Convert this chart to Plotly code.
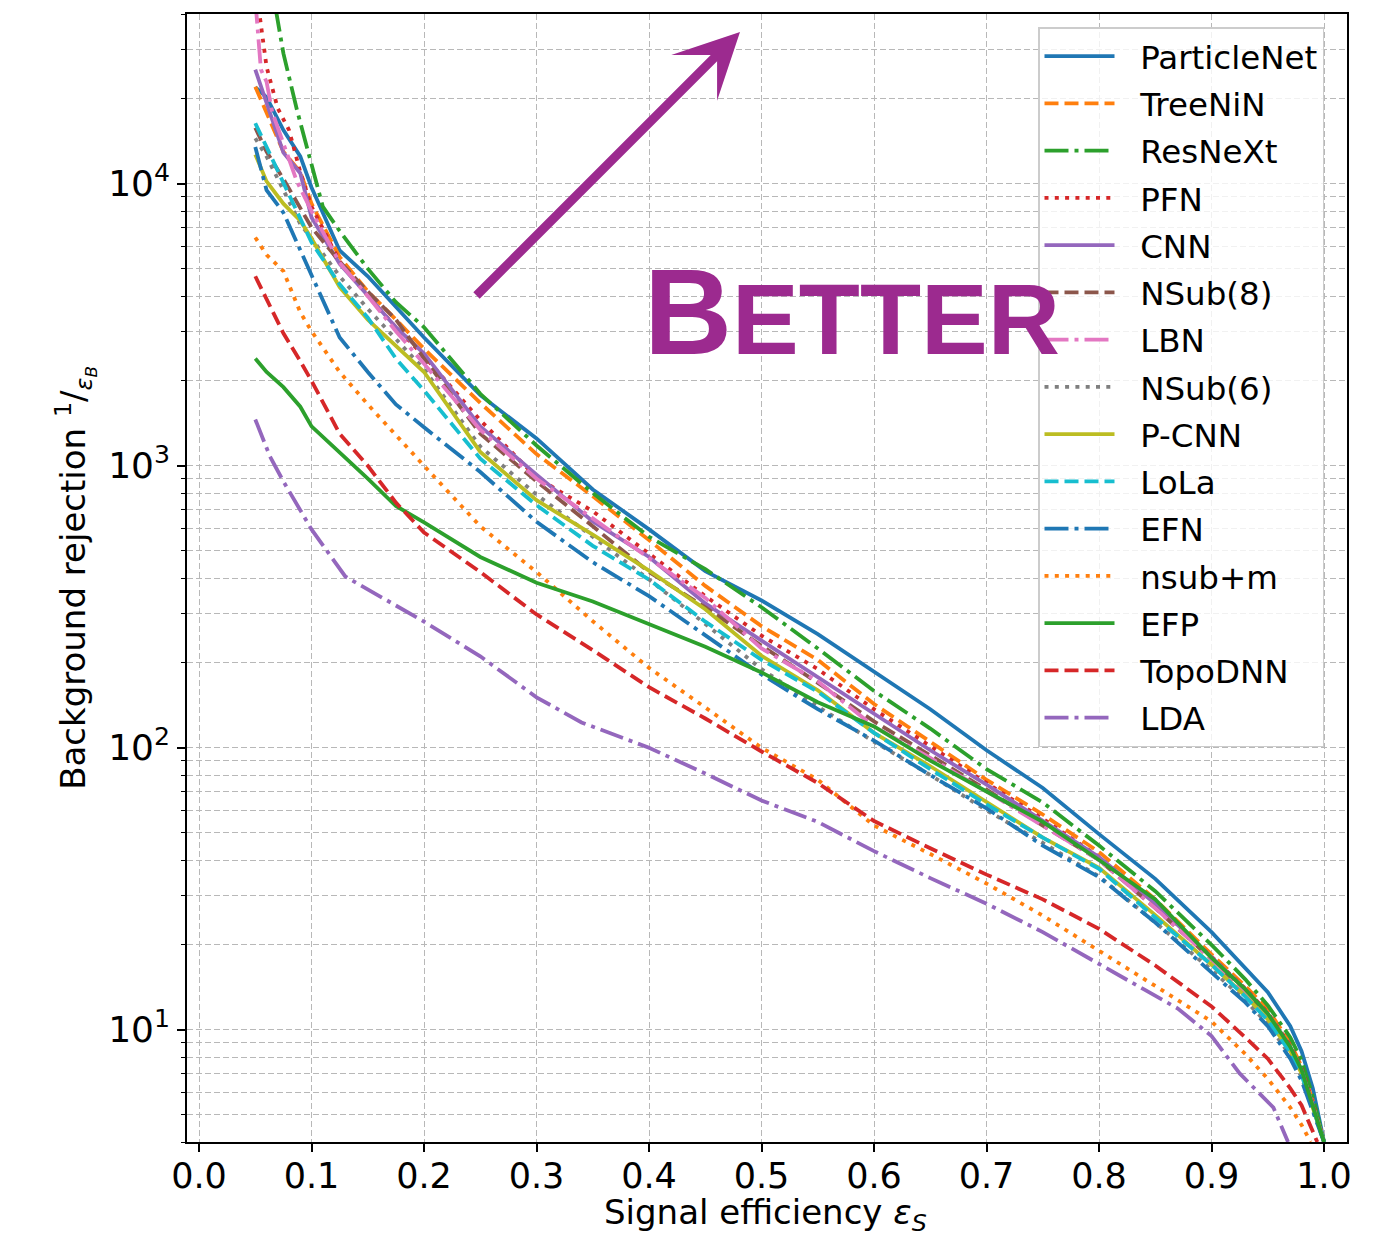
import plotly.graph_objects as go

# ---------------- data ----------------
G = [0.05, 0.06, 0.075, 0.09, 0.1, 0.125, 0.15, 0.175, 0.2, 0.25, 0.3, 0.35, 0.4, 0.45,
     0.5, 0.55, 0.6, 0.65, 0.7, 0.75, 0.8, 0.85, 0.9, 0.93, 0.95, 0.97, 0.98, 0.99, 1.0]

particlenet_x = G
particlenet_y = [22000, 20300, 15500, 12500, 9700, 5800, 4700, 3650, 2850, 1780, 1250, 824, 595, 423,
                 333, 253, 187, 137, 98, 72, 49.4, 34.3, 22.2, 16.6, 13.6, 10.3, 8.4, 6.2, 4.0]

treenin_x = G
treenin_y = [22100, 17800, 13000, 11000, 8500, 5500, 4150, 3300, 2600, 1670, 1100, 780, 545, 375,
             270, 205, 143, 105, 77, 58, 42.7, 29, 18.5, 14.3, 11.8, 9.0, 7.4, 5.6, 4.0]

resnext_x = [0.068, 0.075, 0.087, 0.1, 0.11, 0.125, 0.15, 0.175, 0.2, 0.25, 0.3, 0.35, 0.4, 0.45,
             0.5, 0.55, 0.6, 0.65, 0.7, 0.75, 0.8, 0.85, 0.9, 0.93, 0.95, 0.97, 0.98, 0.99, 1.0]
resnext_y = [42000, 29000, 18300, 11500, 8300, 6800, 5000, 3800, 3100, 1800, 1180, 800, 560, 430,
             315, 225, 159, 117, 84, 64, 45, 31, 20, 15.1, 12.2, 9.4, 7.8, 5.8, 4.0]

pfn_x = [0.053, 0.06, 0.07, 0.08, 0.09, 0.1, 0.125, 0.15, 0.175, 0.2, 0.25, 0.3, 0.35, 0.4, 0.45,
         0.5, 0.55, 0.6, 0.65, 0.7, 0.75, 0.8, 0.85, 0.9, 0.93, 0.95, 0.97, 0.98, 0.99, 1.0]
pfn_y = [42000, 26000, 18500, 15500, 11000, 8300, 5300, 4000, 3100, 2450, 1450, 910, 690, 490, 345,
         250, 190, 137, 101, 75, 56, 41, 28, 18.2, 14.0, 11.5, 8.8, 7.3, 5.5, 4.0]

cnn_x = G
cnn_y = [25400, 19500, 12900, 10900, 7600, 5200, 4000, 3100, 2500, 1380, 930, 635, 475, 325,
         240, 178, 132, 98, 74, 55, 41, 28, 18, 13.9, 11.4, 8.7, 7.2, 5.4, 4.0]

nsub8_x = G
nsub8_y = [15800, 13000, 10400, 8200, 7000, 5300, 4150, 3300, 2400, 1300, 880, 610, 420, 315,
           230, 170, 124, 94, 71, 53, 40, 27, 17.8, 13.7, 11.2, 8.6, 7.1, 5.4, 4.0]

lbn_x = [0.05, 0.055, 0.06, 0.065, 0.077, 0.087, 0.1, 0.125, 0.15, 0.175, 0.2, 0.25, 0.3, 0.35,
         0.4, 0.45, 0.5, 0.55, 0.6, 0.65, 0.7, 0.75, 0.8, 0.85, 0.9, 0.93, 0.95, 0.97, 0.98, 0.99, 1.0]
lbn_y = [45000, 25400, 23000, 18000, 13200, 10200, 8000, 5250, 4000, 3000, 2300, 1340, 900, 650,
         470, 340, 225, 172, 119, 92, 70, 53, 40, 27, 17.8, 13.7, 11.2, 8.6, 7.1, 5.4, 4.0]

nsub6_x = G
nsub6_y = [14500, 12500, 9500, 7200, 6400, 4700, 3600, 2800, 2200, 1170, 790, 560, 395, 275,
           190, 140, 105, 80, 60, 46, 35, 24, 16.3, 12.7, 10.5, 8.1, 6.8, 5.2, 4.0]

pcnn_x = G
pcnn_y = [12700, 10200, 8500, 7400, 6400, 4300, 3300, 2650, 2150, 1120, 755, 570, 425, 310,
          212, 160, 113, 86, 64, 48, 37.5, 25.5, 17, 13.2, 10.9, 8.4, 7.0, 5.3, 4.0]

lola_x = G
lola_y = [16400, 13500, 10000, 7600, 6200, 4400, 3350, 2400, 1850, 1060, 725, 520, 395, 280,
          205, 158, 113, 84, 63, 48, 37.2, 25, 17, 13.1, 10.8, 8.3, 6.9, 5.3, 4.0]

efn_x = G
efn_y = [13500, 9500, 7900, 5800, 4700, 2850, 2150, 1650, 1370, 950, 633, 455, 345, 250,
         182, 137, 106, 80, 61, 45, 34.8, 24, 16, 12.5, 10.3, 7.9, 6.6, 5.1, 4.0]

nsubm_x = [0.05, 0.06, 0.075, 0.09, 0.1, 0.125, 0.15, 0.175, 0.2, 0.25, 0.3, 0.35, 0.4, 0.45,
           0.5, 0.55, 0.6, 0.65, 0.7, 0.75, 0.8, 0.85, 0.9, 0.93, 0.95, 0.97, 0.98, 0.988]
nsubm_y = [6450, 5600, 4900, 3500, 3000, 2150, 1650, 1280, 1000, 610, 420, 281, 192, 139,
           100, 77, 53, 42, 33, 25.4, 19.1, 14.3, 10.7, 8.2, 6.7, 5.3, 4.6, 4.0]

efp_x = G
efp_y = [2400, 2150, 1900, 1620, 1380, 1120, 900, 720, 630, 475, 385, 330, 274, 228,
         185, 145, 119, 90, 70, 54.6, 40, 29, 18, 13.9, 11.4, 8.7, 7.2, 5.4, 4.0]

topodnn_x = [0.05, 0.06, 0.075, 0.09, 0.1, 0.125, 0.15, 0.175, 0.2, 0.25, 0.3, 0.35, 0.4, 0.45,
             0.5, 0.55, 0.6, 0.65, 0.7, 0.75, 0.8, 0.85, 0.9, 0.93, 0.95, 0.97, 0.98, 0.994]
topodnn_y = [4700, 3900, 2950, 2350, 2000, 1300, 1000, 740, 580, 420, 297, 222, 164, 127,
             97, 75, 55, 44, 35.5, 29, 22.8, 16.9, 12.1, 9.4, 7.9, 6.2, 5.4, 4.0]

lda_x = [0.05, 0.063, 0.075, 0.1, 0.13, 0.16, 0.2, 0.25, 0.3, 0.34, 0.4, 0.45, 0.5, 0.55, 0.6,
         0.65, 0.7, 0.75, 0.79, 0.84, 0.87, 0.9, 0.925, 0.955, 0.968]
lda_y = [1460, 1080, 880, 595, 405, 345, 280, 211, 151, 123, 100, 81, 65, 54.6, 43,
         34.5, 28, 22.2, 18.1, 13.9, 11.9, 9.5, 7.0, 5.3, 4.0]

series_names = ["ParticleNet", "TreeNiN", "ResNeXt", "PFN", "CNN", "NSub(8)", "LBN", "NSub(6)",
                "P-CNN", "LoLa", "EFN", "nsub+m", "EFP", "TopoDNN", "LDA"]
series_x = [particlenet_x, treenin_x, resnext_x, pfn_x, cnn_x, nsub8_x, lbn_x, nsub6_x,
            pcnn_x, lola_x, efn_x, nsubm_x, efp_x, topodnn_x, lda_x]
series_y = [particlenet_y, treenin_y, resnext_y, pfn_y, cnn_y, nsub8_y, lbn_y, nsub6_y,
            pcnn_y, lola_y, efn_y, nsubm_y, efp_y, topodnn_y, lda_y]

x_ticks = [0.0, 0.1, 0.2, 0.3, 0.4, 0.5, 0.6, 0.7, 0.8, 0.9, 1.0]
x_tick_labels = ["0.0", "0.1", "0.2", "0.3", "0.4", "0.5", "0.6", "0.7", "0.8", "0.9", "1.0"]
y_ticks = [10, 100, 1000, 10000]
y_tick_labels = ["10<sup>1</sup>", "10<sup>2</sup>", "10<sup>3</sup>", "10<sup>4</sup>"]
y_minor = [m * 10 ** e for e in range(0, 5) for m in range(2, 10)]
x_title = "Signal efficiency <i>ε</i><sub><i>S</i></sub>"
y_title = "Background rejection <sup>1</sup>/<sub><i>ε<sub>B</sub></i></sub>"

# ---------------- styles ----------------
tab = ["#1f77b4", "#ff7f0e", "#2ca02c", "#d62728", "#9467bd",
       "#8c564b", "#e377c2", "#7f7f7f", "#bcbd22", "#17becf"]
SOLID = "solid"
DASH = "14px,6px"
DOT = "4px,6.3px"
DASHDOT = "24px,6px,4px,6px"
styles = [(tab[0], SOLID), (tab[1], DASH), (tab[2], DASHDOT), (tab[3], DOT), (tab[4], SOLID),
          (tab[5], DASH), (tab[6], DASHDOT), (tab[7], DOT), (tab[8], SOLID), (tab[9], DASH),
          (tab[0], DASHDOT), (tab[1], DOT), (tab[2], SOLID), (tab[3], DASH), (tab[4], DASHDOT)]

FONT = "DejaVu Sans"
NBSP = "\u00a0"
fig = go.Figure()
for name, xs, ys, (col, dash) in zip(series_names, series_x, series_y, styles):
    fig.add_trace(go.Scatter(x=xs, y=ys, mode="lines", name=NBSP * 2 + name, legendgroup=name,
                             line=dict(color=col, width=3.8, dash=dash)))

W, H = 1378, 1237
L, R, T, B = 187, 31, 14, 95
grid_col = "#b8b8b8"
fig.update_layout(
    width=W, height=H,
    margin=dict(l=L, r=R, t=T, b=B, autoexpand=False),
    paper_bgcolor="white", plot_bgcolor="white",
    font=dict(family=FONT, size=33, color="black"),
    showlegend=True,
    legend=dict(x=(1038 - L) / (W - L - R), y=(H - B - 27) / (H - T - B),
                xanchor="left", yanchor="top", traceorder="grouped",
                bgcolor="rgba(255,255,255,0.8)", bordercolor="#cccccc", borderwidth=1.5,
                font=dict(family=FONT, size=32.5), itemwidth=70, tracegroupgap=2),
)
fig.update_xaxes(
    range=[-0.0107, 1.0204], tickvals=x_ticks, ticktext=x_tick_labels, automargin=False,
    showline=True, linecolor="black", linewidth=1.6, mirror=True,
    ticks="outside", ticklen=8, tickwidth=1.6, tickcolor="black", ticklabelstandoff=-6,
    showgrid=True, gridcolor=grid_col, gridwidth=1.3, griddash="6px,3px",
    zeroline=False, tickfont=dict(size=35),
)
fig.update_yaxes(
    type="log", range=[0.60206, 4.60206], tickvals=y_ticks, ticktext=y_tick_labels, automargin=False,
    showline=True, linecolor="black", linewidth=1.6, mirror=True,
    ticks="outside", ticklen=8, tickwidth=1.6, tickcolor="black",
    showgrid=True, gridcolor=grid_col, gridwidth=1.3, griddash="6px,3px",
    zeroline=False, tickfont=dict(size=36),
    minor=dict(tickvals=y_minor, ticks="outside", ticklen=4, tickwidth=1.2, tickcolor="black",
               showgrid=True, gridcolor=grid_col, gridwidth=1.3, griddash="6px,3px"),
    title=dict(text=y_title, font=dict(size=34), standoff=12),
)

PURPLE = "#9c2a8f"
pw, ph = W - L - R, H - T - B


def px2paper(px, py):
    return (px - L) / pw, (H - B - py) / ph


xt = px2paper(765, 1214)
fig.add_annotation(x=xt[0], y=xt[1], xref="paper", yref="paper", showarrow=False,
                   text=x_title, font=dict(family=FONT, size=34, color="black"),
                   xanchor="center", yanchor="middle")

tip = px2paper(740, 32)
tail = px2paper(475, 297)
fig.add_annotation(x=tip[0], y=tip[1], xref="x domain", yref="y domain",
                   ax=tail[0], ay=tail[1], axref="x domain", ayref="y domain",
                   text="", showarrow=True, arrowhead=3, arrowsize=1.2, arrowwidth=9,
                   arrowcolor=PURPLE)
bx, by = px2paper(852, 312)
fig.add_annotation(x=bx, y=by, xref="paper", yref="paper", showarrow=False,
                   text="<b><span style='font-size:122px'>B</span>ETTER</b>",
                   font=dict(family="Liberation Sans", size=100, color=PURPLE),
                   xanchor="center", yanchor="middle")

fig.write_html("out.html", config={"displayModeBar": False},
               post_script="document.body.style.margin='0';")
